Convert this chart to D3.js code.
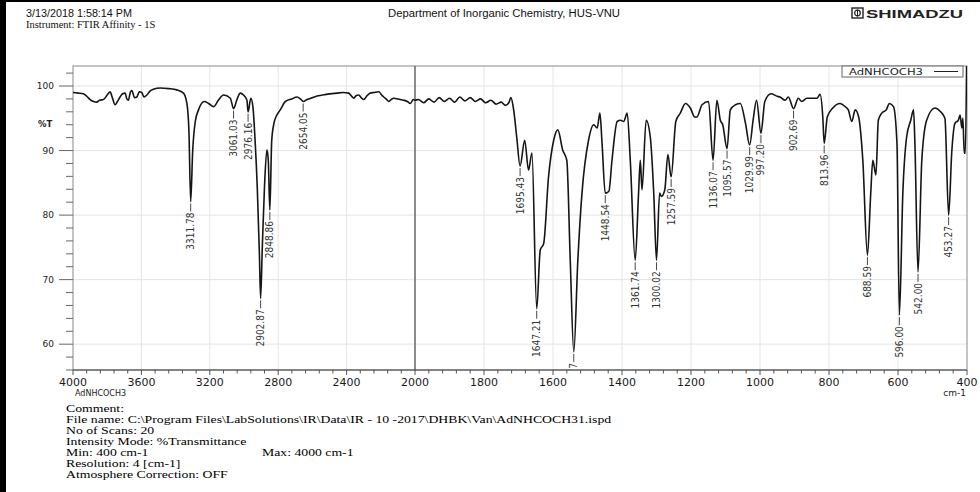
<!DOCTYPE html>
<html>
<head>
<meta charset="utf-8">
<script src="https://cdn.jsdelivr.net/npm/d3@7"></script>
<style>
  body { margin: 0; background: #fff; }
  svg { display: block; }
</style>
</head>
<body>
<svg id="chart" width="980" height="492"></svg>
<script>
// spectrum, wavenumber (cm-1) and %T
const wavenumber = [
  4000, 3970, 3940, 3915, 3900, 3880, 3861, 3845, 3822, 3800, 3783, 3770, 3754, 3740, 3725, 3710,
  3695, 3685, 3676, 3665, 3656, 3640, 3627, 3612, 3598, 3585, 3568, 3550, 3530, 3490, 3440, 3393,
  3354, 3334, 3322, 3311.78, 3300, 3285, 3266, 3233, 3207, 3178, 3150, 3120, 3080, 3061.03, 3040, 3022,
  3003, 2983, 2976.16, 2960, 2948, 2935, 2922, 2910, 2902.87, 2893, 2880, 2866, 2858, 2848.86, 2838, 2825,
  2810, 2788, 2758, 2720, 2690, 2670, 2654.05, 2631, 2600, 2573, 2520, 2456, 2420, 2388, 2370, 2358,
  2345, 2329, 2315, 2300, 2280, 2261, 2240, 2212, 2195, 2183, 2165, 2154, 2140, 2125, 2100, 2066,
  2045, 2027, 2010, 2000,
  1990, 1975, 1960, 1945, 1930, 1915, 1900, 1885, 1870, 1855, 1840, 1825, 1810, 1795, 1780, 1765,
  1750, 1738, 1728, 1722, 1714, 1705, 1695.43, 1682, 1671, 1661, 1647.21, 1637, 1627, 1613, 1598, 1586,
  1572, 1560, 1550, 1539.77, 1528, 1516, 1497, 1482, 1472, 1464, 1458, 1448.54, 1438, 1429, 1414, 1404,
  1395, 1385, 1376, 1361.74, 1352, 1347, 1342, 1330, 1318, 1308, 1300.02, 1291, 1286, 1276, 1267, 1257.59,
  1244, 1231, 1216, 1202, 1189, 1183, 1168, 1149, 1136.07, 1125, 1115, 1108, 1095.57, 1086, 1071, 1057,
  1042, 1029.99, 1020, 1010, 997.2, 986, 968, 950, 942, 927, 918, 902.69, 889, 879, 864, 835,
  826, 818, 813.96, 805, 789, 768, 753, 744, 734, 724, 714, 702, 688.59, 679, 673, 664,
  657, 647, 634, 625, 613, 603, 596, 586, 575, 563, 555, 551, 542, 531, 517, 493,
  478, 464, 453.27, 444, 435, 425, 420, 415, 412, 408, 405, 401
];
const transmittance = [
  99.0, 98.9, 98.8, 98.3, 97.9, 97.6, 97.5, 97.8, 97.9, 98.6, 99.1, 98.2, 97.1, 97.6, 98.3, 98.8,
  98.9, 98.0, 97.8, 99.0, 99.3, 98.2, 98.3, 99.1, 99.0, 98.3, 98.6, 99.2, 99.5, 99.7, 99.6, 99.4,
  98.9, 97.3, 93.0, 82.1, 90.0, 94.5, 96.3, 97.6, 97.3, 96.8, 97.8, 98.6, 98.1, 96.5, 98.0, 98.9,
  98.6, 97.8, 96.0, 98.1, 96.8, 91.5, 84.0, 74.0, 67.1, 75.0, 84.5, 90.1, 88.5, 80.8, 91.5, 94.2,
  95.4, 96.3, 97.6, 98.0, 98.3, 98.0, 97.6, 97.9, 98.2, 98.45, 98.7, 98.9, 99.0, 98.9, 98.4, 98.1,
  98.5, 98.6, 98.2, 97.9, 98.5, 98.9, 99.0, 99.1, 98.6, 98.3, 97.9, 97.6, 97.9, 98.1, 98.0, 97.8,
  97.6, 97.3, 97.9, 97.8,
  97.9, 97.4, 98.0, 97.5, 98.2, 97.6, 98.1, 97.5, 98.3, 97.7, 98.2, 97.6, 98.0, 97.4, 97.8, 97.2,
  97.5, 97.0, 97.4, 98.2, 96.3, 92.0, 87.6, 91.6, 87.0, 89.6, 65.5, 74.6, 75.6, 85.9, 91.6, 93.2,
  90.1, 88.5, 73.0, 58.8, 73.0, 83.4, 91.6, 94.0, 93.5, 95.8, 91.3, 83.4, 83.7, 88.5, 94.5, 94.7,
  94.5, 95.8, 88.5, 73.0, 83.4, 88.5, 83.9, 94.7, 92.1, 83.4, 73.0, 83.4, 82.9, 83.9, 89.4, 85.9,
  94.5, 95.8, 97.3, 96.6, 95.2, 95.2, 97.1, 97.6, 88.5, 97.8, 94.7, 94.0, 90.3, 96.3, 97.1, 97.3,
  94.2, 90.85, 94.7, 97.8, 92.7, 97.6, 98.8, 98.4, 98.3, 97.8, 98.3, 96.5, 98.1, 97.6, 98.1, 98.1,
  98.7, 95.2, 91.1, 95.2, 96.6, 97.3, 96.8, 96.3, 94.5, 96.3, 95.2, 88.5, 73.8, 83.4, 88.5, 86.2,
  94.7, 95.8, 96.3, 97.3, 96.8, 91.1, 64.5, 83.4, 92.1, 94.7, 96.3, 91.1, 71.2, 88.5, 94.7, 96.6,
  96.1, 95.0, 80.0, 89.9, 94.2, 94.7, 95.5, 93.5, 95.0, 89.6, 89.6, 104
];

// picked peaks
const peakWn = [3311.78, 3061.03, 2976.16, 2902.87, 2848.86, 2654.05, 1695.43, 1647.21, 1539.77, 1448.54,
  1361.74, 1300.02, 1257.59, 1136.07, 1095.57, 1029.99, 997.2, 902.69, 813.96, 688.59, 596.0, 542.0, 453.27];
const peakT = [82.1, 96.5, 96.0, 67.1, 80.8, 97.6, 87.6, 65.5, 58.8, 83.4,
  73.0, 73.0, 85.9, 88.5, 90.3, 90.85, 92.7, 96.5, 91.1, 73.8, 64.5, 71.2, 80.0];
const peakText = ['3311.78', '3061.03', '2976.16', '2902.87', '2848.86', '2654.05', '1695.43', '1647.21', '1539.77', '1448.54',
  '1361.74', '1300.02', '1257.59', '1136.07', '1095.57', '1029.99', '997.20', '902.69', '813.96', '688.59', '596.00', '542.00', '453.27'];

const xTickLabels = [4000, 3600, 3200, 2800, 2400, 2000, 1800, 1600, 1400, 1200, 1000, 800, 600, 400];
const yTickLabels = [60, 70, 80, 90, 100];

const sampleName = 'AdNHCOCH3';
const headerLeft = ['3/13/2018 1:58:14 PM', 'Instrument: FTIR Affinity - 1S'];
const headerMid = 'Department of Inorganic Chemistry, HUS-VNU';
const footerLines = [
  'Comment:',
  'File name: C:\\Program Files\\LabSolutions\\IR\\Data\\IR - 10 -2017\\DHBK\\Van\\AdNHCOCH31.ispd',
  'No of Scans: 20',
  'Intensity Mode: %Transmittance',
  'Min: 400 cm-1',
  'Resolution: 4 [cm-1]',
  'Atmosphere Correction: OFF'
];
const footerMax = 'Max: 4000 cm-1';

const svg = d3.select('#chart');
const L = 73, R = 967, T = 66, B = 370;

// split axis like the shimadzu print: 4000-2000 compressed, 2000-400 expanded
const x = d3.scaleLinear().domain([4000, 2000, 400]).range([L, 415, R]);
const y = d3.scaleLinear().domain([56, 103.1]).range([B, T]);

svg.append('rect').attr('width', 980).attr('height', 492).attr('fill', '#fff');

// page frame bits
svg.append('rect').attr('x', 0).attr('y', 0).attr('width', 6).attr('height', 492).attr('fill', '#000');
svg.append('rect').attr('x', 0).attr('y', 0).attr('width', 980).attr('height', 2).attr('fill', '#000');

// header
const sans = "'Liberation Sans', Arial, sans-serif";
const serif = "'Liberation Serif', 'Times New Roman', serif";
svg.append('text').attr('x', 26).attr('y', 17).attr('font-family', sans).attr('font-size', 10)
  .attr('textLength', 106).attr('lengthAdjust', 'spacingAndGlyphs')
  .attr('fill', '#111').text(headerLeft[0]);
svg.append('text').attr('x', 26).attr('y', 28).attr('font-family', serif).attr('font-size', 10.5)
  .attr('fill', '#111').text(headerLeft[1]);
svg.append('text').attr('x', 388).attr('y', 17).attr('font-family', sans).attr('font-size', 10)
  .attr('textLength', 232).attr('lengthAdjust', 'spacingAndGlyphs')
  .attr('fill', '#111').text(headerMid);

const logo = svg.append('g').attr('transform', 'translate(852,8)');
logo.append('rect').attr('width', 11).attr('height', 10).attr('fill', 'none').attr('stroke', '#222').attr('stroke-width', 1.4);
logo.append('circle').attr('cx', 5.5).attr('cy', 5).attr('r', 2.8).attr('fill', 'none').attr('stroke', '#222').attr('stroke-width', 1.2);
logo.append('line').attr('x1', 5.5).attr('x2', 5.5).attr('y1', 1.5).attr('y2', 8.5).attr('stroke', '#222').attr('stroke-width', 1);
svg.append('text').attr('x', 866).attr('y', 17.5).attr('font-family', sans).attr('font-size', 11.5)
  .attr('font-weight', 'bold').attr('textLength', 97).attr('lengthAdjust', 'spacingAndGlyphs')
  .attr('fill', '#222').text('SHIMADZU');

// grid
const grid = svg.append('g');
grid.selectAll('.gx').data(xTickLabels.filter(d => d != 4000 && d != 400)).enter().append('line')
  .attr('x1', d => x(d)).attr('x2', d => x(d)).attr('y1', T).attr('y2', B)
  .attr('stroke', '#e4e4e4').attr('stroke-width', 1);
grid.selectAll('.gy').data(yTickLabels).enter().append('line')
  .attr('x1', L).attr('x2', R).attr('y1', d => y(d)).attr('y2', d => y(d))
  .attr('stroke', '#e4e4e4').attr('stroke-width', 1);

// frame
svg.append('rect').attr('x', L).attr('y', T).attr('width', R - L).attr('height', B - T)
  .attr('fill', 'none').attr('stroke', '#8a8a8a').attr('stroke-width', 1);
svg.append('line').attr('x1', x(2000)).attr('x2', x(2000)).attr('y1', T).attr('y2', B)
  .attr('stroke', '#555').attr('stroke-width', 1.3);

// x ticks: 80 steps on the left half, 40 on the right half, hanging below the axis
const minorX = d3.range(4000, 2000, -80).concat(d3.range(2000, 399, -40));
svg.append('g').selectAll('line').data(minorX).enter().append('line')
  .attr('x1', d => x(d)).attr('x2', d => x(d))
  .attr('y1', B).attr('y2', d => xTickLabels.includes(d) ? B + 5 : B + 3.5)
  .attr('stroke', '#555').attr('stroke-width', 1);
svg.append('line').attr('x1', L).attr('x2', R).attr('y1', B).attr('y2', B).attr('stroke', '#444');

const tickFont = "'DejaVu Sans', Verdana, sans-serif";
svg.append('g').selectAll('text').data(xTickLabels).enter().append('text')
  .attr('x', d => x(d)).attr('y', B + 16).attr('text-anchor', 'middle')
  .attr('font-family', tickFont).attr('font-size', 11).attr('fill', '#1a1a1a').text(d => d);
svg.append('text').attr('x', 75).attr('y', B + 26).attr('font-family', tickFont).attr('font-size', 8)
  .attr('fill', '#222').text(sampleName);
svg.append('text').attr('x', 966).attr('y', B + 26).attr('text-anchor', 'end').attr('font-family', tickFont)
  .attr('font-size', 9).attr('fill', '#222').text('cm-1');

// y ticks every 2 %T
const minorY = d3.range(56, 103, 2);
svg.append('g').selectAll('line').data(minorY).enter().append('line')
  .attr('x1', d => d % 10 == 0 ? L - 14 : L - 7).attr('x2', L)
  .attr('y1', d => y(d)).attr('y2', d => y(d))
  .attr('stroke', '#666').attr('stroke-width', 1);
svg.append('g').selectAll('text').data(yTickLabels).enter().append('text')
  .attr('x', 54).attr('y', d => y(d)).attr('dy', '0.35em').attr('text-anchor', 'end')
  .attr('font-family', tickFont).attr('font-size', 9).attr('fill', '#222').text(d => d);
svg.append('text').attr('x', 38).attr('y', y(94.1)).attr('dy', '0.35em')
  .attr('font-family', tickFont).attr('font-size', 8.5).attr('font-weight', 'bold').attr('fill', '#222').text('%T');

// clip to plot area
svg.append('clipPath').attr('id', 'plotclip').append('rect')
  .attr('x', L).attr('y', T).attr('width', R - L).attr('height', B - T);
const plot = svg.append('g').attr('clip-path', 'url(#plotclip)');

const line = d3.line()
  .x((d, i) => x(wavenumber[i]))
  .y((d, i) => y(transmittance[i]))
  .curve(d3.curveMonotoneX);
plot.append('path').attr('d', line(wavenumber)).attr('fill', 'none')
  .attr('stroke', '#151515').attr('stroke-width', 1.6).attr('stroke-linejoin', 'round');

// peak labels hang below each minimum, rotated
const labelFont = "'Liberation Sans Narrow', 'DejaVu Sans Condensed', 'Liberation Sans', sans-serif";
const peaks = plot.selectAll('.peak').data(peakWn).enter().append('g')
  .attr('transform', (d, i) => 'translate(' + x(d) + ',' + y(peakT[i]) + ')');
peaks.append('line').attr('x1', 0).attr('x2', 0).attr('y1', 2).attr('y2', 10)
  .attr('stroke', '#333').attr('stroke-width', 0.9);
peaks.append('text').attr('transform', 'rotate(-90)').attr('x', -11).attr('dy', '0.35em')
  .attr('text-anchor', 'end').attr('font-family', labelFont).attr('font-size', 10)
  .attr('fill', '#333').text((d, i) => peakText[i]);

// legend
const lg = svg.append('g').attr('transform', 'translate(842,66)');
lg.append('rect').attr('width', 121).attr('height', 11).attr('fill', '#fff').attr('stroke', '#666');
lg.append('text').attr('x', 7).attr('y', 9).attr('font-family', tickFont).attr('font-size', 8.5)
  .attr('textLength', 74).attr('lengthAdjust', 'spacingAndGlyphs')
  .attr('fill', '#222').text(sampleName);
lg.append('line').attr('x1', 92).attr('x2', 116).attr('y1', 5.5).attr('y2', 5.5).attr('stroke', '#222');

// footer block, the print is stretched sideways
const foot = svg.append('g').attr('transform', 'translate(66,0) scale(1.25,1)')
  .attr('font-family', serif).attr('font-size', 11).attr('fill', '#000');
foot.selectAll('text').data(footerLines).enter().append('text')
  .attr('x', 0).attr('y', (d, i) => 412 + i * 11).text(d => d);
foot.append('text').attr('x', (262 - 66) / 1.25).attr('y', 412 + 4 * 11).text(footerMax);
</script>
</body>
</html>
